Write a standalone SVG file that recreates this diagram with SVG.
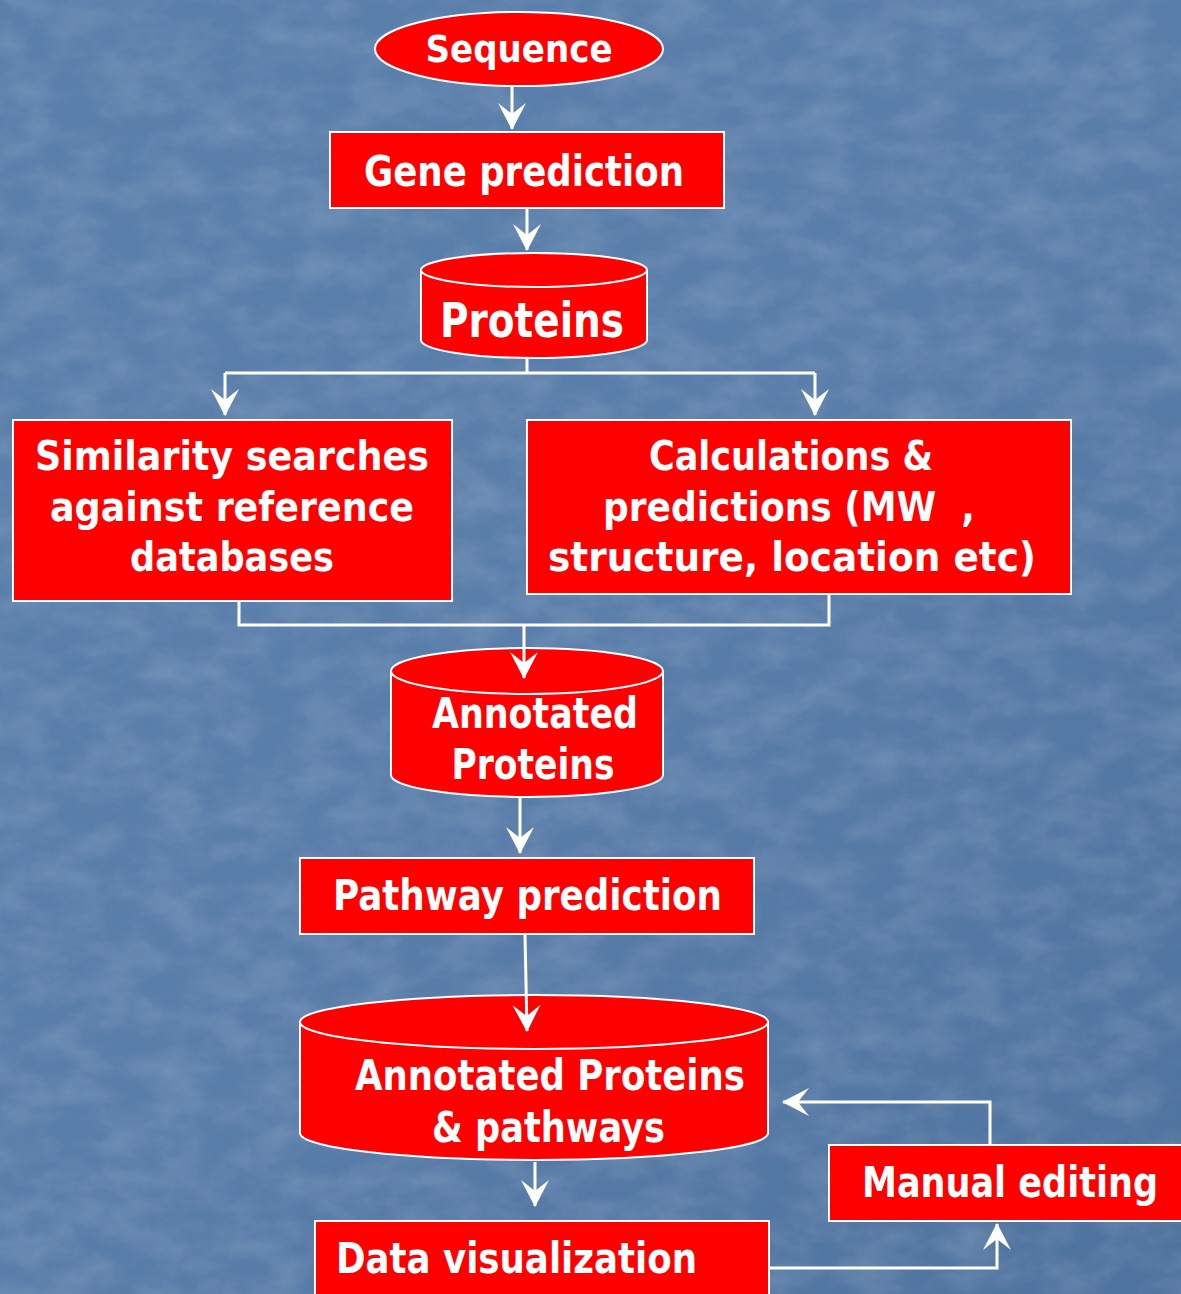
<svg xmlns="http://www.w3.org/2000/svg" width="1181" height="1294" viewBox="0 0 1181 1294">
<style>
.box{fill:#ff0000;stroke:#ffffff;stroke-width:2}
.lbl{font-family:"DejaVu Sans","Liberation Sans",sans-serif;font-weight:bold;fill:#ffffff}
.con{fill:none;stroke:#ffffff;stroke-width:3}
</style>
<defs>
<linearGradient id="bg" x1="0" y1="0" x2="1" y2="1">
<stop offset="0" stop-color="#5a7fab"/>
<stop offset="0.5" stop-color="#5a7eaa"/>
<stop offset="1" stop-color="#4f739f"/>
</linearGradient>
<filter id="tex" x="0" y="0" width="100%" height="100%">
<feTurbulence type="fractalNoise" baseFrequency="0.02 0.035" numOctaves="4" seed="7" result="n"/>
<feColorMatrix in="n" type="matrix" values="0 0 0 0 1  0 0 0 0 1  0 0 0 0 1  0 0 0 0.45 -0.15"/>
</filter>
<marker id="ah" markerUnits="userSpaceOnUse" markerWidth="32" markerHeight="32" viewBox="-28 -16 32 32" refX="0" refY="0" orient="auto">
<path d="M1,0 L-26,-14 L-15,0 L-26,14 Z" fill="#ffffff"/>
</marker>
</defs>
<rect width="1181" height="1294" fill="url(#bg)"/>
<rect width="1181" height="1294" filter="url(#tex)" opacity="0.5"/>

<g id="sequence">
<ellipse class="box" cx="519" cy="49" rx="144" ry="37"/>
<text class="lbl" x="519" y="62" font-size="38" text-anchor="middle" textLength="187" lengthAdjust="spacingAndGlyphs">Sequence</text>
</g>

<g id="gene-prediction">
<rect class="box" x="330" y="132" width="394" height="76"/>
<text class="lbl" x="364" y="186" font-size="42" textLength="320" lengthAdjust="spacingAndGlyphs">Gene prediction</text>
</g>

<g id="proteins">
<path class="box" d="M421,270 A113,17 0 0,1 647,270 L647,340 A113,18 0 0,1 421,340 Z"/>
<path class="box" fill="none" d="M421,270 A113,17 0 0,0 647,270"/>
<text class="lbl" x="532" y="337" font-size="48" text-anchor="middle" textLength="184" lengthAdjust="spacingAndGlyphs">Proteins</text>
</g>

<g id="similarity">
<rect class="box" x="13" y="420" width="439" height="181"/>
<text class="lbl" x="232" y="470" font-size="40" text-anchor="middle" textLength="394" lengthAdjust="spacingAndGlyphs">Similarity searches</text>
<text class="lbl" x="232" y="521" font-size="40" text-anchor="middle" textLength="364" lengthAdjust="spacingAndGlyphs">against reference</text>
<text class="lbl" x="232" y="571" font-size="40" text-anchor="middle" textLength="204" lengthAdjust="spacingAndGlyphs">databases</text>
</g>

<g id="calculations">
<rect class="box" x="527" y="420" width="544" height="174"/>
<text class="lbl" x="791" y="470" font-size="40" text-anchor="middle" textLength="284" lengthAdjust="spacingAndGlyphs">Calculations &amp;</text>
<text class="lbl" x="789" y="521" font-size="40" text-anchor="middle" textLength="372" lengthAdjust="spacingAndGlyphs" xml:space="preserve">predictions (MW  ,</text>
<text class="lbl" x="792" y="571" font-size="40" text-anchor="middle" textLength="488" lengthAdjust="spacingAndGlyphs">structure, location etc)</text>
</g>

<g id="annotated-proteins">
<path class="box" d="M391,671 A136,23 0 0,1 663,671 L663,775 A136,22 0 0,1 391,775 Z"/>
<path class="box" fill="none" d="M391,671 A136,23 0 0,0 663,671"/>
<text class="lbl" x="535" y="728" font-size="42" text-anchor="middle" textLength="206" lengthAdjust="spacingAndGlyphs">Annotated</text>
<text class="lbl" x="533" y="779" font-size="42" text-anchor="middle" textLength="163" lengthAdjust="spacingAndGlyphs">Proteins</text>
</g>

<g id="pathway-prediction">
<rect class="box" x="300" y="858" width="454" height="76"/>
<text class="lbl" x="333" y="910" font-size="42" textLength="389" lengthAdjust="spacingAndGlyphs">Pathway prediction</text>
</g>

<g id="annotated-pathways">
<path class="box" d="M300,1022 A234,27 0 0,1 768,1022 L768,1133 A234,27 0 0,1 300,1133 Z"/>
<path class="box" fill="none" d="M300,1022 A234,27 0 0,0 768,1022"/>
<text class="lbl" x="355" y="1090" font-size="42" textLength="390" lengthAdjust="spacingAndGlyphs">Annotated Proteins</text>
<text class="lbl" x="432" y="1142" font-size="42" textLength="233" lengthAdjust="spacingAndGlyphs">&amp; pathways</text>
</g>

<g id="data-visualization">
<rect class="box" x="315" y="1221" width="454" height="80"/>
<text class="lbl" x="336" y="1273" font-size="42" textLength="361" lengthAdjust="spacingAndGlyphs">Data visualization</text>
</g>

<g id="manual-editing">
<rect class="box" x="829" y="1145" width="360" height="76"/>
<text class="lbl" x="862" y="1197" font-size="42" textLength="296" lengthAdjust="spacingAndGlyphs">Manual editing</text>
</g>

<g id="connectors">
<path class="con" d="M512,87 V129" marker-end="url(#ah)"/>
<path class="con" d="M527,209 V250" marker-end="url(#ah)"/>
<path class="con" d="M527,359 V373"/>
<path class="con" d="M225,373 H815"/>
<path class="con" d="M225,373 V415" marker-end="url(#ah)"/>
<path class="con" d="M815,373 V415" marker-end="url(#ah)"/>
<path class="con" d="M239,602 V625 H829 V595"/>
<path class="con" d="M524,625 V678" marker-end="url(#ah)"/>
<path class="con" d="M520,798 V853" marker-end="url(#ah)"/>
<path class="con" d="M525,935 L527,1031" marker-end="url(#ah)"/>
<path class="con" d="M535,1162 V1206" marker-end="url(#ah)"/>
<path class="con" d="M770,1268 H997 V1224" marker-end="url(#ah)"/>
<path class="con" d="M990,1144 V1102 H783" marker-end="url(#ah)"/>
</g>
</svg>
